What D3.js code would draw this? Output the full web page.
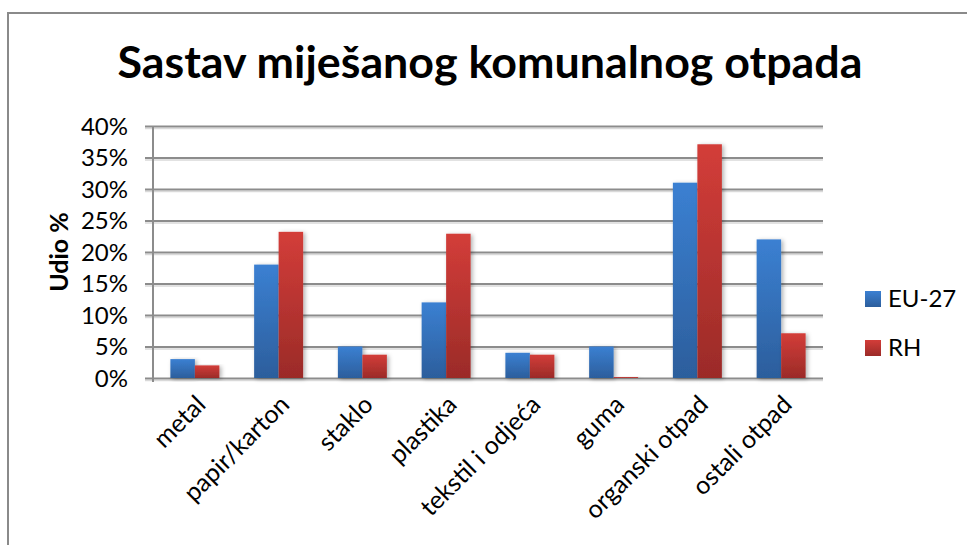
<!DOCTYPE html>
<html>
<head>
<meta charset="utf-8">
<script src="https://cdn.jsdelivr.net/npm/d3@7"></script>
<style>
  html, body { margin: 0; padding: 0; background: #fff; }
  svg { display: block; }
  text { font-family: Lato, "Open Sans", sans-serif; fill: #000; }
</style>
</head>
<body>
<svg id="chart" width="967" height="545"></svg>
<script>
const titleText = "Sastav miješanog komunalnog otpada";
const yAxisTitle = "Udio %";
const categories = ["metal", "papir/karton", "staklo", "plastika", "tekstil i odjeća", "guma", "organski otpad", "ostali otpad"];
const seriesNames = ["EU-27", "RH"];
const euValues = [3, 18, 5, 12, 4, 5, 31, 22];
const rhValues = [2, 23.2, 3.7, 22.9, 3.7, 0.15, 37.1, 7.1];
const yTicks = [0, 5, 10, 15, 20, 25, 30, 35, 40];

const svg = d3.select("#chart");
const defs = svg.append("defs");

function grad(id, top, bottom) {
  const g = defs.append("linearGradient").attr("id", id)
    .attr("x1", 0).attr("y1", 0).attr("x2", 0).attr("y2", 1);
  g.append("stop").attr("offset", "0%").attr("stop-color", top);
  g.append("stop").attr("offset", "100%").attr("stop-color", bottom);
}
grad("gBlue", "#3b80d2", "#2c5e9c");
grad("gRed", "#d33d39", "#9b2b28");
const colors = ["url(#gBlue)", "url(#gRed)"];
const legendColors = ["url(#gBlue)", "url(#gRed)"];

const f = defs.append("filter").attr("id", "shadow")
  .attr("x", "-30%").attr("y", "-10%").attr("width", "170%").attr("height", "130%");
f.append("feDropShadow").attr("dx", 2).attr("dy", 1).attr("stdDeviation", 2)
  .attr("flood-color", "#000").attr("flood-opacity", 0.3);

// outer frame
svg.append("rect").attr("x", 8).attr("y", 13).attr("width", 980).attr("height", 560)
  .attr("fill", "none").attr("stroke", "#8a8a8a").attr("stroke-width", 2);

// title
svg.append("text").attr("x", 490).attr("y", 78).attr("text-anchor", "middle")
  .attr("font-size", 44).attr("font-weight", "bold")
  .attr("textLength", 745).attr("lengthAdjust", "spacingAndGlyphs")
  .text(titleText);

const x0 = 153, x1 = 823, yTop = 126, yBot = 378;
const x = d3.scaleBand().domain(categories).range([x0, x1])
  .paddingInner(0.415).paddingOuter(0.2075);
const xs = d3.scaleBand().domain(seriesNames).range([0, x.bandwidth()]);
const y = d3.scaleLinear().domain([0, 40]).range([yBot, yTop]);

// gridlines via axis
const yAxis = d3.axisLeft(y).tickValues(yTicks).tickSize(-(x1 - x0)).tickPadding(0)
  .tickFormat(d => d + "%");
const gy = svg.append("g").attr("transform", `translate(${x0},0)`).call(yAxis);
gy.select(".domain").remove();
gy.selectAll(".tick line").attr("stroke", "#8c8c8c").attr("stroke-width", 2)
  .attr("x1", -8);
gy.selectAll(".tick").insert("line", "line")
  .attr("x1", -8).attr("x2", x1 - x0).attr("y1", 2).attr("y2", 2)
  .attr("stroke", "#d9d9d9").attr("stroke-width", 1.5);
gy.selectAll(".tick text").attr("x", -25).attr("dy", "0.35em")
  .attr("font-size", 24).attr("font-family", "Lato, sans-serif").attr("fill", "#000");

// vertical axis line
svg.append("line").attr("x1", x0).attr("x2", x0).attr("y1", yTop).attr("y2", yBot + 4)
  .attr("stroke", "#8c8c8c").attr("stroke-width", 2);

// bars
const groups = svg.append("g").selectAll("g").data(categories).join("g")
  .attr("transform", d => `translate(${x(d)},0)`);
groups.selectAll("rect").data((d, i) => [
  { s: seriesNames[0], v: euValues[i], c: 0 },
  { s: seriesNames[1], v: rhValues[i], c: 1 }
]).join("rect")
  .attr("x", d => xs(d.s))
  .attr("width", xs.bandwidth())
  .attr("y", d => y(d.v))
  .attr("height", d => yBot - y(d.v))
  .attr("fill", d => colors[d.c])
  .attr("filter", "url(#shadow)");

// x labels
const xAxis = d3.axisBottom(x).tickSize(0).tickPadding(0);
const gx = svg.append("g").attr("transform", `translate(0,${yBot})`).call(xAxis);
gx.select(".domain").remove();
gx.selectAll(".tick text")
  .attr("font-size", 25).attr("font-family", "Lato, sans-serif").attr("fill", "#000")
  .attr("text-anchor", "end")
  .attr("transform", "translate(6,22) rotate(-45)")
  .attr("y", 0).attr("dy", "0.35em");

// y axis title
svg.append("text").attr("transform", "translate(68,252) rotate(-90)")
  .attr("text-anchor", "middle").attr("font-size", 25).attr("font-weight", "bold")
  .text(yAxisTitle);

// legend
const leg = svg.append("g").selectAll("g").data(seriesNames).join("g")
  .attr("transform", (d, i) => `translate(865,${291 + i * 49})`);
leg.append("rect").attr("width", 16).attr("height", 16)
  .attr("fill", (d, i) => legendColors[i]);
leg.append("text").attr("x", 23).attr("y", 16).attr("font-size", 24).text(d => d);
</script>
</body>
</html>
